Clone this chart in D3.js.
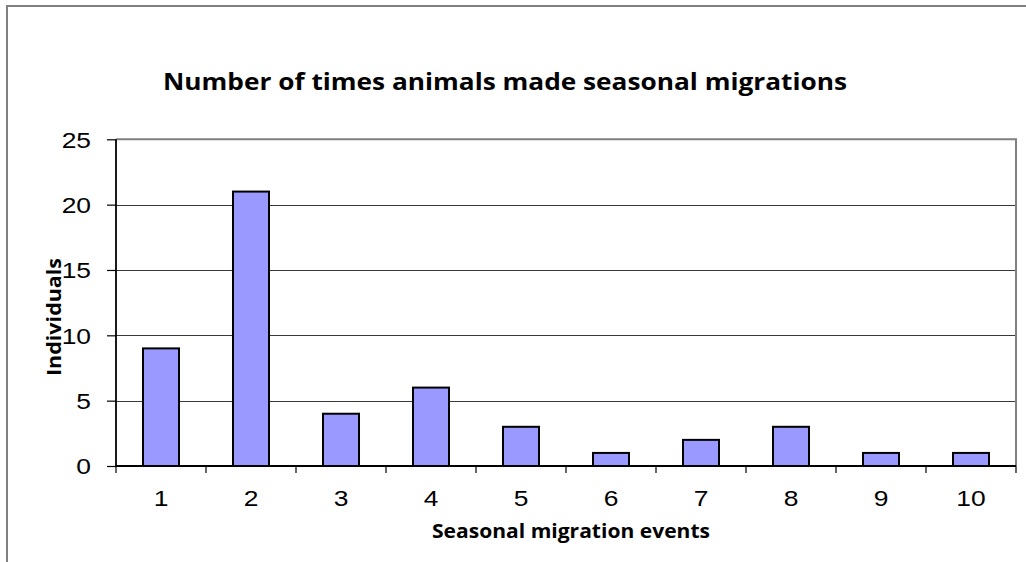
<!DOCTYPE html>
<html>
<head>
<meta charset="utf-8">
<script src="https://cdn.jsdelivr.net/npm/d3@7"></script>
<style>
  html, body { margin: 0; padding: 0; background: #fff; }
  svg { display: block; }
</style>
</head>
<body>
<div id="chart"></div>
<script>
const categories = ["1", "2", "3", "4", "5", "6", "7", "8", "9", "10"];
const individuals = [9, 21, 4, 6, 3, 1, 2, 3, 1, 1];
const yTicks = [0, 5, 10, 15, 20, 25];
const titleText = "Number of times animals made seasonal migrations";
const xTitleText = "Seasonal migration events";
const yTitleText = "Individuals";

const W = 1026, H = 562;
const plot = { left: 116, right: 1016, top: 139.3, bottom: 466 };

const svg = d3.select("#chart").append("svg")
  .attr("width", W).attr("height", H);

// outer frame (top and left visible)
svg.append("path")
  .attr("d", `M7,${H} L7,6 L${W},6`)
  .attr("fill", "none").attr("stroke", "#808080").attr("stroke-width", 2);

const x = d3.scaleBand().domain(categories).range([plot.left, plot.right]).paddingInner(0).paddingOuter(0);
const y = d3.scaleLinear().domain([0, 25]).range([plot.bottom, plot.top]);

// gridlines
svg.append("g").selectAll("line").data(yTicks.filter(d => d > 0 && d < 25)).join("line")
  .attr("x1", plot.left).attr("x2", plot.right)
  .attr("y1", d => Math.round(y(d)) + 0.5).attr("y2", d => Math.round(y(d)) + 0.5)
  .attr("stroke", "#3a3a3a").attr("stroke-width", 1);

// plot border top and right
svg.append("path")
  .attr("d", `M${plot.left},${y(25)} L${plot.right},${y(25)} L${plot.right},${plot.bottom}`)
  .attr("fill", "none").attr("stroke", "#808080").attr("stroke-width", 2);

// bars
const barW = x.bandwidth() * 0.4;
svg.append("g").selectAll("rect").data(individuals).join("rect")
  .attr("x", (d, i) => x(categories[i]) + (x.bandwidth() - barW) / 2)
  .attr("width", barW)
  .attr("y", d => y(d))
  .attr("height", d => y(0) - y(d))
  .attr("fill", "#9999FF")
  .attr("stroke", "#000").attr("stroke-width", 2);

const tickFont = "'Liberation Sans', Arial, sans-serif";
const stretch = 1.2;

// y axis
const yAxis = d3.axisLeft(y).tickValues(yTicks).tickSize(9).tickPadding(0).tickFormat(d3.format("d"));
const gy = svg.append("g").attr("transform", `translate(${plot.left},0)`).call(yAxis);
gy.select(".domain").attr("stroke", "#000").attr("stroke-width", 1.8)
  .attr("d", `M0,${y(25)}V${y(0)}`);
gy.selectAll(".tick line").attr("stroke", "#000").attr("stroke-width", 1.2);
gy.selectAll(".tick text")
  .attr("x", 0)
  .attr("transform", `translate(-25,0) scale(${stretch},1)`)
  .attr("dy", "0.35em")
  .attr("font-family", tickFont)
  .attr("font-size", 22).attr("fill", "#000");

// x axis
const xAxis = d3.axisBottom(x).tickSize(0).tickPadding(0);
const gx = svg.append("g").attr("transform", `translate(0,${plot.bottom})`).call(xAxis);
gx.select(".domain").attr("stroke", "#000").attr("stroke-width", 1.8)
  .attr("d", `M${plot.left},0H${plot.right}`);
gx.selectAll(".tick text")
  .attr("y", 0).attr("dy", 0)
  .attr("transform", `translate(0,40) scale(${stretch},1)`)
  .attr("font-family", tickFont)
  .attr("font-size", 22).attr("fill", "#000");
// category boundary tick marks
const bounds = categories.map(c => x(c)).concat([plot.right]);
gx.append("g").selectAll("line").data(bounds).join("line")
  .attr("x1", d => d).attr("x2", d => d)
  .attr("y1", 0).attr("y2", 7)
  .attr("stroke", "#000").attr("stroke-width", 1.2);

// titles
const boldFont = "'Open Sans', 'Noto Sans', sans-serif";
svg.append("text")
  .attr("x", 505).attr("y", 89.5)
  .attr("text-anchor", "middle")
  .attr("font-family", boldFont).attr("font-weight", "bold")
  .attr("font-size", 23)
  .attr("textLength", 684).attr("lengthAdjust", "spacingAndGlyphs")
  .text(titleText);

svg.append("text")
  .attr("x", 571).attr("y", 538)
  .attr("text-anchor", "middle")
  .attr("font-family", boldFont).attr("font-weight", "bold")
  .attr("font-size", 19)
  .attr("textLength", 278).attr("lengthAdjust", "spacingAndGlyphs")
  .text(xTitleText);

svg.append("text")
  .attr("transform", "translate(60.5,317) rotate(-90)")
  .attr("text-anchor", "middle")
  .attr("font-family", boldFont).attr("font-weight", "bold")
  .attr("font-size", 19)
  .attr("textLength", 118).attr("lengthAdjust", "spacingAndGlyphs")
  .text(yTitleText);
</script>
</body>
</html>
